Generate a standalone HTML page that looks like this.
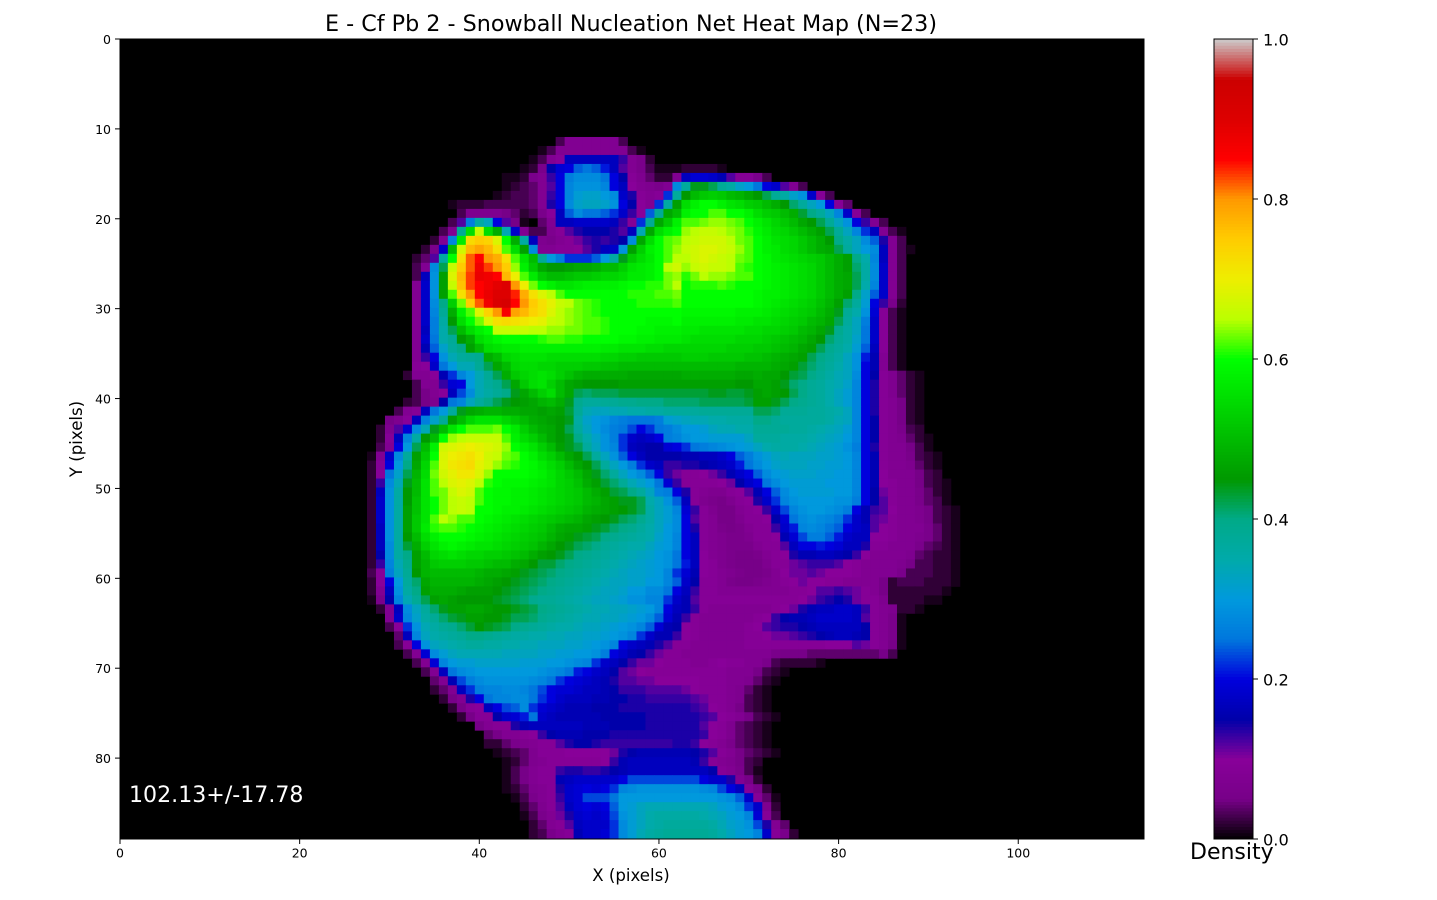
<!DOCTYPE html>
<html lang="en">
<head>
<meta charset="utf-8">
<title>E - Cf Pb 2 - Snowball Nucleation Net Heat Map</title>
<style>
html,body{margin:0;padding:0;background:#fff;width:1437px;height:900px;overflow:hidden}
svg{display:block}
text{font-family:"DejaVu Sans","Liberation Sans",sans-serif;fill:#000}
</style>
</head>
<body>
<svg id="fig" width="1437" height="900" viewBox="0 0 1437 900" xmlns="http://www.w3.org/2000/svg">
<defs><clipPath id="axclip"><rect x="120" y="39" width="1024" height="800"/></clipPath></defs>
<rect x="0" y="0" width="1437" height="900" fill="#fff"/>
<text x="631" y="31" font-size="22.25" text-anchor="middle">E - Cf Pb 2 - Snowball Nucleation Net Heat Map (N=23)</text>
<rect x="120" y="39" width="1024" height="800" fill="#000"/>
<g id="cells" clip-path="url(#axclip)"></g>
<rect x="120" y="39" width="1024" height="800" fill="none" stroke="#000" stroke-width="1"/>
<g id="xaxis"></g>
<g id="yaxis"></g>
<text x="631" y="881" font-size="16.6" text-anchor="middle">X (pixels)</text>
<text x="0" y="0" font-size="16.6" text-anchor="middle" transform="translate(82 439) rotate(-90)">Y (pixels)</text>
<text x="129" y="802" font-size="22.1" style="fill:#fff">102.13+/-17.78</text>
<g id="cbar"></g>
<rect x="1214" y="39" width="39" height="800" fill="none" stroke="#000" stroke-width="1"/>
<g id="cbaxis"></g>
<text x="1190" y="859" font-size="22">Density</text>
</svg>
<script>
const xTicks = [0,20,40,60,80,100];
const yTicks = [0,10,20,30,40,50,60,70,80];
const densityTicks = [0,0.2,0.4,0.6,0.8,1.0];
const firstRow = 11;
const heatStarts = [49,47,46,45,43,43,42,37,38,37,36,35,34,33,33,33,33,33,33,33,33,33,33,33,33,33,32,33,33,32,31,30,29,29,29,28,28,28,28,28,28,28,28,28,28,28,28,28,28,28,28,28,29,30,30,31,31,32,33,34,35,35,36,37,38,40,41,41,42,43,43,43,43,44,45,45,46,46];
const heatRows = [
[3,8,8,8,8,8,8,3],
[1,3,8,8,8,8,8,8,8,8,3,1],
[1,3,8,10,17,17,17,17,17,17,13,8,6,2],
[1,2,6,15,19,20,24,25,24,21,17,12,8,6,3,1,1,1,2,2,2,2,1],
[1,1,2,6,8,13,20,26,28,28,28,25,20,15,9,7,4,2,2,8,17,19,19,18,16,12,9,9,6,3],
[1,2,3,4,8,12,20,27,29,29,29,27,20,17,10,8,7,6,8,28,37,44,44,42,38,36,32,30,25,20,18,12,8,3],
[1,2,3,3,4,8,13,20,27,31,32,32,30,28,18,14,9,8,9,22,37,45,50,52,53,52,50,49,47,45,42,38,36,32,29,18,9,3],
[1,2,2,2,3,3,3,3,3,4,8,14,20,28,32,33,33,32,29,20,15,10,8,22,36,46,55,58,60,60,58,56,55,53,52,50,48,45,41,37,33,30,20,9,4],
[3,7,7,7,7,5,4,2,3,6,10,17,24,28,25,25,24,22,18,13,10,24,38,47,50,58,60,60,62,62,60,60,58,55,53,52,50,48,43,40,37,33,27,18,9,3],
[3,12,26,36,33,20,12,5,1,0,4,8,17,17,18,18,18,18,17,13,9,22,38,47,52,58,62,62,63,64,64,63,62,60,58,56,54,52,50,47,45,42,38,33,29,20,13,8,3],
[3,8,38,55,66,55,48,34,18,8,3,3,7,9,12,14,15,15,15,14,12,17,34,47,55,58,60,64,65,66,66,65,64,63,61,59,57,55,54,52,50,48,46,42,38,33,27,22,17,8,3,1],
[2,8,27,57,73,75,74,68,60,48,36,17,7,6,8,9,11,13,14,13,14,15,28,47,55,60,62,63,65,66,67,67,67,65,63,62,60,58,56,55,54,52,50,48,45,40,36,33,28,24,14,8,3],
[2,6,18,50,67,77,79,77,72,62,55,46,28,8,8,9,9,10,12,14,17,18,29,46,53,58,60,62,64,66,67,68,68,67,66,64,62,60,58,57,55,54,52,50,48,47,42,37,33,30,28,17,8,3,1],
[2,4,12,36,60,72,82,85,80,78,72,62,56,50,38,30,26,22,22,22,24,30,36,44,52,55,57,60,62,65,65,67,68,67,66,65,63,62,60,59,57,56,55,54,53,52,50,48,46,40,35,27,17,8,3],
[3,8,28,42,66,75,82,87,83,80,75,64,58,52,47,45,45,46,47,47,48,50,50,53,56,57,58,60,65,67,64,66,67,66,66,65,62,61,60,59,58,57,56,55,54,52,50,48,46,41,36,28,18,8,3],
[3,17,29,46,68,77,83,88,87,85,77,70,62,57,52,50,50,51,52,52,53,54,54,55,57,57,58,60,63,64,61,63,65,64,64,63,62,62,60,59,58,57,56,55,54,52,50,48,47,42,36,28,18,8,3],
[8,18,29,46,66,76,83,85,87,89,90,80,70,63,60,58,56,56,57,58,58,58,58,59,60,60,61,61,63,65,60,61,61,61,62,61,60,60,60,59,58,57,56,55,54,52,50,48,47,42,35,27,18,8,3],
[8,18,29,46,62,72,80,85,88,90,90,84,78,72,68,65,62,60,60,60,60,60,60,60,61,61,61,62,62,63,60,60,60,60,60,60,60,60,59,58,58,57,56,55,54,52,50,48,46,40,32,24,18,8,3],
[8,18,28,40,53,63,75,82,87,91,92,85,80,75,72,69,66,65,63,62,61,60,60,60,60,61,61,61,61,62,60,60,60,60,60,60,60,60,59,58,57,56,55,54,53,51,49,46,41,37,31,20,13,6,2],
[8,18,27,38,48,58,62,68,74,80,86,79,77,74,72,68,65,64,63,62,61,60,60,60,60,60,60,60,60,60,59,59,59,59,59,59,58,58,58,57,56,55,54,53,52,50,48,44,38,35,29,19,9,3,1],
[8,18,26,36,45,55,60,63,68,72,73,72,71,70,69,66,65,64,63,62,62,61,60,60,60,60,59,59,59,60,58,58,58,58,58,58,57,57,56,56,55,54,53,52,50,49,47,42,37,33,26,18,9,3,1],
[8,17,26,35,42,50,55,58,60,66,66,66,66,65,65,64,64,63,63,62,62,61,60,60,60,59,59,58,58,58,57,57,56,56,56,56,56,55,55,54,54,53,52,50,49,47,44,39,36,33,25,18,9,3,1],
[8,18,25,35,38,45,48,55,57,59,60,60,60,60,61,62,62,61,61,60,60,60,60,59,59,58,58,57,57,57,56,55,55,55,55,55,54,54,54,53,52,51,50,49,47,45,41,38,36,32,25,18,9,3,1],
[8,16,24,32,37,40,46,50,55,56,57,57,58,58,58,58,58,58,58,58,58,57,57,56,56,56,55,55,54,54,54,54,54,54,54,53,53,53,52,52,51,50,49,47,46,42,39,37,35,31,24,17,9,3,1],
[8,13,20,29,34,37,38,39,48,50,54,55,56,56,56,55,55,55,55,55,55,54,54,53,53,52,52,52,52,52,53,53,53,52,52,52,52,51,51,50,49,48,47,46,42,40,38,36,33,29,21,16,8,3,1],
[9,10,18,25,30,34,34,38,42,47,50,54,55,55,54,54,53,53,53,52,52,51,51,50,50,50,50,50,50,50,50,50,50,50,50,50,49,49,49,49,48,47,46,43,41,39,37,35,33,29,20,16,8,3,1],
[2,8,8,10,16,22,27,30,34,38,42,48,52,54,55,56,55,53,51,49,48,48,48,48,48,47,47,47,47,47,47,48,48,48,48,48,48,47,47,48,47,47,45,43,42,40,38,36,34,33,28,20,15,9,7,4,2,1],
[3,8,8,13,19,20,30,34,37,39,42,47,52,55,56,53,50,47,46,45,45,45,45,46,46,46,46,46,46,46,46,46,46,46,46,46,45,45,47,47,46,44,41,40,38,37,35,34,32,27,20,14,9,7,4,2,1],
[3,5,8,10,17,23,28,34,36,38,40,44,47,50,53,55,50,47,42,41,42,42,42,43,43,43,43,43,43,43,43,43,43,44,44,43,43,44,46,47,46,45,42,40,38,37,35,33,31,27,20,14,9,7,4,2,1],
[2,3,5,7,15,25,27,33,37,40,42,44,45,46,47,49,50,48,44,39,37,37,38,38,39,39,40,40,40,41,41,41,41,42,42,42,42,42,43,46,46,44,42,40,39,38,37,35,33,31,27,20,14,9,8,5,2,1],
[3,8,9,17,25,30,37,44,47,48,49,49,48,48,47,47,46,47,46,43,38,34,33,33,34,34,35,35,36,36,37,37,37,37,38,38,38,38,38,38,42,42,41,38,38,38,37,37,36,35,33,27,20,14,9,8,5,2,1],
[5,7,10,17,26,32,38,46,50,54,56,56,56,54,52,50,48,47,46,45,44,36,32,30,29,27,26,25,25,25,26,31,32,33,34,34,35,35,36,36,36,40,40,38,37,37,37,37,37,36,34,33,27,20,15,9,8,5,2,1],
[2,7,12,19,28,34,44,50,56,60,62,62,62,63,60,57,53,50,48,47,45,42,37,33,30,28,26,25,23,20,22,25,26,28,30,30,31,33,34,34,35,35,38,38,38,38,37,37,36,35,34,33,31,27,20,15,9,8,6,3,2],
[2,9,17,27,36,45,50,60,64,65,66,66,66,66,62,58,55,53,50,47,45,44,40,35,32,29,26,22,18,17,18,20,26,27,29,30,30,31,31,31,31,33,37,37,37,36,36,36,35,34,33,32,30,27,20,15,9,8,7,4,2,1],
[3,8,20,30,42,50,58,67,68,69,70,69,68,67,64,60,58,56,53,50,46,44,42,37,33,29,27,22,17,16,15,15,19,20,22,25,26,27,28,29,30,31,33,35,36,36,36,35,34,33,32,31,29,26,20,14,9,8,8,5,3,1],
[1,8,18,28,37,46,52,60,68,70,71,72,70,67,66,63,62,60,58,55,53,50,47,45,42,37,33,29,24,20,17,15,15,15,15,16,16,17,17,18,20,24,26,29,31,33,34,33,33,33,32,32,31,30,27,20,16,9,8,8,6,3,2,1],
[2,9,20,30,40,47,54,62,68,71,72,73,69,67,64,62,61,60,59,57,55,53,50,47,45,42,37,33,30,26,22,18,17,13,13,14,14,15,16,17,18,21,25,28,30,32,33,33,33,32,32,31,31,30,27,20,16,9,8,8,7,4,2,1],
[2,10,25,32,42,49,55,63,67,69,71,71,68,64,60,60,60,60,59,58,56,54,52,50,47,44,41,37,33,30,28,24,20,13,11,9,9,10,11,13,16,18,20,24,28,30,31,32,32,32,31,31,30,30,27,20,16,10,8,8,8,5,3,2],
[2,13,28,34,44,50,56,62,65,68,69,68,65,61,60,59,59,59,58,57,56,54,53,51,48,46,43,41,38,34,32,30,25,19,13,9,9,9,9,10,11,15,18,20,25,28,30,31,31,31,31,30,30,30,27,20,16,10,9,8,8,5,3,2,1],
[2,17,29,36,45,50,56,62,63,66,68,67,62,60,59,59,58,58,57,56,55,54,53,52,50,48,46,43,42,40,37,33,27,26,20,14,9,8,7,7,9,10,12,16,20,24,28,30,31,31,31,31,30,30,27,20,15,11,9,8,8,6,4,2,1],
[2,18,29,36,45,51,56,60,63,65,66,65,62,60,59,59,58,58,57,56,55,54,53,52,50,49,47,46,44,44,42,35,33,29,24,17,9,7,6,5,7,9,10,14,18,22,27,29,30,30,30,30,29,29,26,20,15,12,9,8,8,6,4,3,1],
[2,18,29,36,46,51,56,60,63,65,66,65,60,60,59,58,58,57,56,55,54,53,52,51,49,48,47,46,45,44,42,36,33,31,27,19,13,9,7,5,5,8,9,10,13,18,23,27,29,30,30,29,28,26,20,16,13,12,10,8,8,7,5,3,2,1],
[2,18,29,36,46,52,56,62,65,64,62,62,60,59,58,57,56,55,54,53,52,51,50,49,47,46,45,44,42,41,39,36,33,31,28,20,12,9,8,5,5,7,9,9,10,15,19,25,28,29,28,27,25,22,18,16,12,11,9,8,8,7,5,3,2,1],
[2,17,29,36,46,52,57,61,62,62,61,60,59,58,57,56,55,54,53,52,50,48,47,47,46,44,43,41,40,39,37,35,33,30,28,20,14,9,8,6,5,6,8,9,9,13,18,21,27,28,27,25,24,20,18,17,12,10,9,8,8,8,6,4,2,1],
[2,17,29,36,45,50,55,58,60,60,60,59,58,57,56,55,54,53,52,51,49,47,46,44,43,42,40,39,38,37,36,35,32,30,27,20,17,9,8,7,6,6,7,9,9,10,16,19,23,26,26,24,21,18,17,17,10,10,9,8,8,7,6,4,2,1],
[2,17,28,36,43,48,53,56,58,59,58,57,56,56,55,54,53,52,51,49,47,45,44,42,41,40,38,37,36,35,35,33,31,30,27,20,17,9,8,7,6,6,6,8,9,9,12,17,20,20,21,20,19,17,17,14,9,9,8,8,8,6,4,3,2,1],
[2,15,28,36,40,46,50,54,55,56,55,54,54,53,53,52,51,50,48,46,45,44,42,40,39,38,37,36,35,34,33,32,30,29,25,20,17,10,8,7,6,5,5,6,8,9,10,14,16,16,17,17,16,15,13,10,8,8,8,8,7,4,3,2,2,1],
[2,13,27,34,39,46,49,52,53,53,53,52,52,51,50,50,48,47,45,43,43,41,40,39,38,37,36,35,34,33,32,31,30,29,25,21,17,10,9,7,6,5,5,5,7,9,9,11,12,13,13,13,12,10,9,8,8,8,8,7,5,3,3,2,2,1],
[3,10,26,33,38,45,49,50,50,50,50,50,49,48,48,47,46,44,43,42,41,40,39,38,37,36,35,34,33,32,32,31,30,27,22,19,16,10,9,8,7,6,5,5,6,8,10,11,11,12,11,10,10,10,9,8,8,8,8,6,3,3,3,2,2,1],
[2,10,20,30,37,41,47,49,49,49,49,49,48,47,46,45,44,43,42,41,40,39,38,37,36,35,34,33,33,32,32,30,30,27,24,18,15,9,9,8,6,5,5,6,7,8,9,10,11,10,10,9,9,8,8,8,8,5,2,3,3,3,2,2,2,1],
[2,8,17,29,36,40,46,48,48,48,47,46,46,46,45,44,43,42,41,40,39,38,37,36,35,34,33,33,32,30,30,28,28,25,20,17,13,9,9,8,8,8,8,8,8,8,8,9,9,10,12,12,13,12,11,9,8,5,2,2,2,2,2,2,1],
[1,6,15,27,34,38,42,46,47,46,45,45,45,45,44,43,42,41,39,38,38,37,36,35,34,33,33,32,31,29,29,27,27,22,18,16,12,9,9,9,9,9,9,9,9,9,9,9,10,11,13,14,15,14,11,9,9,7,2,2,2,2,1,1],
[2,8,17,28,33,37,41,44,46,46,47,47,46,45,45,44,43,42,40,39,38,37,36,35,34,34,33,33,32,31,30,27,20,17,16,13,9,8,8,8,8,8,8,8,9,10,11,14,16,17,17,18,18,17,13,9,8,7,2,2,1],
[8,18,27,32,36,38,41,43,44,46,46,45,45,44,42,42,41,39,38,37,36,35,34,34,33,33,32,31,30,28,24,19,16,13,9,8,8,8,8,8,8,9,10,13,15,16,16,17,18,18,18,18,17,12,9,8,6,1],
[3,10,22,29,34,36,38,39,41,43,45,44,43,42,40,39,38,37,36,35,35,34,33,33,32,31,30,29,27,24,19,16,15,10,9,8,8,8,8,8,9,10,12,13,14,14,15,16,17,17,17,17,17,15,9,8,6,1],
[4,17,27,33,35,36,37,38,40,40,39,38,37,36,36,35,35,34,34,33,33,32,32,31,30,29,27,22,18,16,16,13,10,9,8,8,8,8,8,9,9,10,11,11,12,13,14,15,16,17,17,16,15,9,8,6,1],
[3,9,20,29,33,34,35,36,37,37,36,36,35,35,34,34,33,33,33,32,32,31,30,29,27,20,18,17,16,14,12,9,9,8,8,8,8,8,8,9,9,9,9,9,9,9,9,9,10,10,10,12,11,9,8,5,1],
[3,8,19,28,31,33,34,34,34,34,34,33,33,33,33,32,32,31,31,30,30,29,26,20,18,16,15,13,11,9,9,8,8,8,8,8,8,8,8,8,8,6,5,5,5,4,4,4,4,4,4,4,4,5,3],
[3,8,19,27,30,31,31,32,32,32,32,32,31,31,31,30,30,29,28,27,22,18,17,15,13,11,11,10,9,9,9,8,8,9,10,9,9,8,8,6,3,2,2,2,2,1],
[3,8,17,25,28,29,30,30,30,30,30,30,30,29,28,27,25,21,20,18,17,15,12,11,10,9,9,9,9,9,9,9,9,9,8,8,8,5,3,2,1],
[4,8,16,23,26,28,29,29,29,29,29,28,27,25,22,20,19,18,17,16,14,12,12,11,11,10,10,10,10,10,9,9,9,8,8,7,4,2,1],
[2,4,8,17,22,26,27,27,28,28,27,25,23,20,19,19,18,17,17,16,15,13,13,13,12,12,12,12,11,10,9,9,9,8,7,4,2,1],
[2,5,8,14,20,25,27,27,28,28,25,22,20,18,17,17,17,16,16,15,15,14,14,13,13,13,13,13,12,11,9,9,8,7,3,2,1],
[2,5,9,10,17,20,23,24,28,22,19,18,17,16,16,16,15,15,15,14,14,14,14,14,14,14,14,13,12,10,9,8,5,3,2,1],
[2,5,9,9,15,18,19,21,25,18,17,16,16,16,16,16,15,15,15,15,15,14,14,14,14,14,14,13,12,10,9,8,5,3,2,1],
[5,8,9,9,14,16,17,17,17,17,17,17,16,16,16,15,15,15,15,14,14,14,14,14,14,12,10,9,7,4,3,2,1],
[4,5,8,8,9,10,13,15,16,16,16,15,15,15,14,14,14,14,14,14,14,14,14,14,13,10,9,7,4,3,2,1],
[2,2,4,6,7,8,9,9,12,14,15,15,14,13,13,13,13,13,13,13,13,14,14,13,10,9,8,6,4,3,2,1],
[1,2,3,4,7,9,9,9,10,10,10,10,10,11,14,15,16,16,16,16,16,16,15,14,12,9,8,5,4,3,2,1],
[1,2,4,7,8,9,9,9,9,9,9,10,13,16,17,17,17,17,17,17,17,16,13,9,8,7,5,3,2],
[1,3,5,8,9,9,13,14,14,13,13,14,15,16,17,17,17,17,17,17,17,17,17,15,9,8,6,3,1],
[1,3,5,8,9,9,16,17,18,18,18,18,18,20,23,23,23,23,23,23,23,23,20,18,18,14,8,5,2],
[1,2,4,7,8,9,14,18,19,20,19,20,22,27,28,29,29,29,29,29,29,29,28,27,23,20,17,9,6,2],
[1,3,6,8,9,13,18,19,23,23,23,25,30,30,30,30,30,30,30,30,30,30,30,29,28,24,18,9,4,1],
[2,4,7,9,12,17,19,20,19,20,24,30,31,33,34,34,34,34,34,34,34,33,31,30,28,22,18,7,2],
[1,3,6,8,11,14,18,19,18,19,23,29,31,33,35,36,36,36,36,36,35,34,33,31,30,27,19,9,3],
[2,4,8,9,12,17,18,18,18,22,28,31,33,35,36,37,37,37,37,37,36,34,32,31,29,23,14,8,4],
[2,3,6,8,9,16,18,18,19,22,28,31,34,36,37,38,38,38,38,38,37,35,33,31,30,27,18,9,6,2]
];
const spectralStops = [[0,0,0],[.4667,0,.5333],[.5333,0,.6],[0,0,.6667],[0,0,.8667],[0,.4667,.8667],[0,.6,.8667],[0,.6667,.6667],[0,.6667,.5333],[0,.6,0],[0,.7333,0],[0,.8667,0],[0,1,0],[.7333,1,0],[.9333,.9333,0],[1,.8,0],[1,.6,0],[1,0,0],[.8667,0,0],[.8,0,0],[.8,.8,.8]];

const NS = 'http://www.w3.org/2000/svg';
const plotLeft = 120, plotTop = 39, plotWidth = 1024, plotHeight = 800;
const xMax = 114, yMax = 89;
const xScale = v => plotLeft + v / xMax * plotWidth;
const yScale = v => plotTop + v / yMax * plotHeight;
const cbLeft = 1214, cbWidth = 39;
const cbScale = v => plotTop + plotHeight - v * plotHeight;

function colorOf(v) {
  const t = Math.max(0, Math.min(1, v)) * (spectralStops.length - 1);
  const i = Math.min(Math.floor(t), spectralStops.length - 2);
  const f = t - i;
  const a = spectralStops[i], b = spectralStops[i + 1];
  const c = [0, 1, 2].map(k => Math.round((a[k] + (b[k] - a[k]) * f) * 255));
  return 'rgb(' + c[0] + ',' + c[1] + ',' + c[2] + ')';
}
function svgEl(tag, attrs) {
  const el = document.createElementNS(NS, tag);
  for (const k in attrs) el.setAttribute(k, attrs[k]);
  return el;
}

const cellsGroup = document.getElementById('cells');
heatRows.forEach((rowValues, ri) => {
  const row = firstRow + ri;
  rowValues.forEach((pct, ci) => {
    if (pct <= 0) return;
    const col = heatStarts[ri] + ci;
    const x0 = xScale(col - 0.5), x1 = xScale(col + 0.5);
    const y0 = yScale(row - 0.1), y1 = yScale(row + 0.9);
    const cell = svgEl('rect', {x: x0, y: y0, width: x1 - x0 + 0.4, height: y1 - y0 + 0.4, fill: colorOf(pct / 100)});
    
    
    cellsGroup.appendChild(cell);
  });
});

const xAxis = document.getElementById('xaxis');
xTicks.forEach(v => {
  const px = xScale(v);
  const mark = svgEl('line', {x1: px, x2: px, y1: 839, y2: 844, stroke: '#000', 'stroke-width': 1});
  
  
  xAxis.appendChild(mark);
  const label = svgEl('text', {x: px, y: 857.5, 'font-size': 12.5, 'text-anchor': 'middle'});
  
  
  label.textContent = String(v);
  xAxis.appendChild(label);
});

const yAxis = document.getElementById('yaxis');
yTicks.forEach(v => {
  const py = yScale(v);
  const mark = svgEl('line', {x1: 115, x2: 120, y1: py, y2: py, stroke: '#000', 'stroke-width': 1});
  
  
  yAxis.appendChild(mark);
  const label = svgEl('text', {x: 111, y: py + 5, 'font-size': 12.5, 'text-anchor': 'end'});
  
  
  label.textContent = String(v);
  yAxis.appendChild(label);
});

const cbar = document.getElementById('cbar');
const cbLevels = 256;
for (let i = 0; i < cbLevels; i++) {
  const lo = i / cbLevels, hi = (i + 1) / cbLevels;
  const seg = svgEl('rect', {x: cbLeft, y: cbScale(hi), width: cbWidth, height: cbScale(lo) - cbScale(hi) + 0.5, fill: colorOf((i + 0.5) / cbLevels)});
  
  
  cbar.appendChild(seg);
}

const cbAxis = document.getElementById('cbaxis');
densityTicks.forEach(v => {
  const py = cbScale(v);
  const mark = svgEl('line', {x1: 1253, x2: 1258, y1: py, y2: py, stroke: '#000', 'stroke-width': 1});
  
  
  cbAxis.appendChild(mark);
  const label = svgEl('text', {x: 1263, y: py + 6.5, 'font-size': 16.2});
  
  
  label.textContent = v.toFixed(1);
  cbAxis.appendChild(label);
});
</script>
</body>
</html>
